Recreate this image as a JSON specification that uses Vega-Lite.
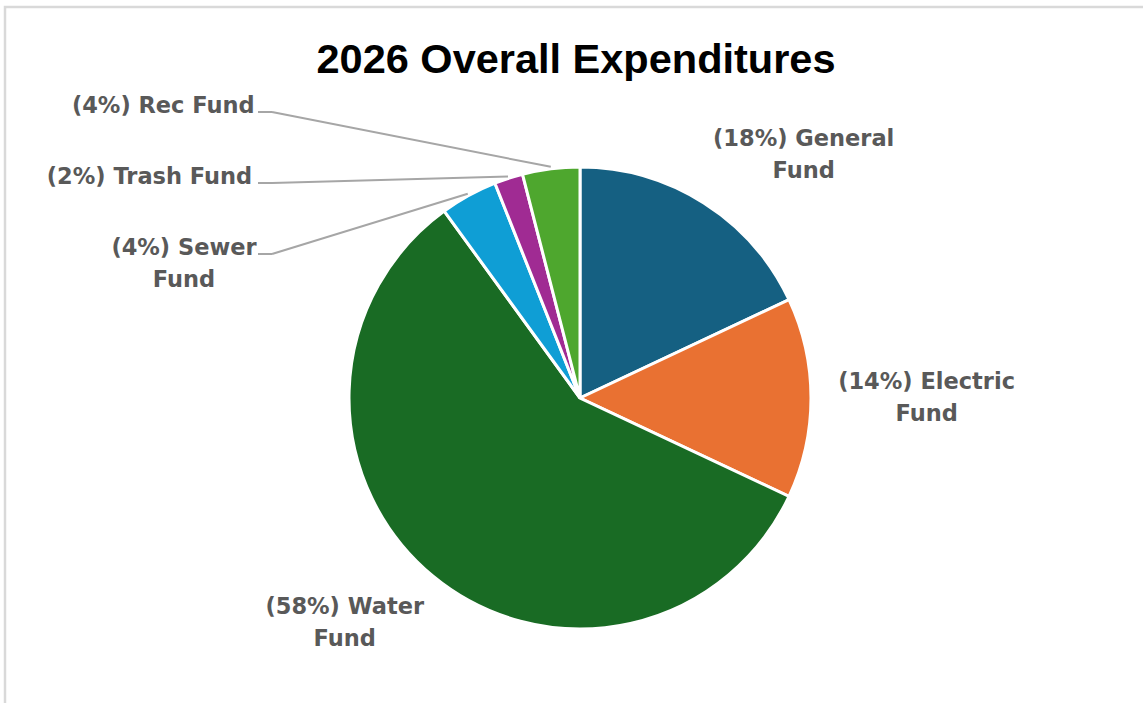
{
  "$schema": "https://vega.github.io/schema/vega-lite/v6.json",
  "autosize": {"type": "none"},
  "width": 1142,
  "height": 700,
  "padding": {"left": 5, "top": 7, "right": -4, "bottom": -4},
  "background": "white",
  "config": {"view": {"stroke": "#D9D9D9", "strokeWidth": 2.5}},
  "title": {
    "text": "2026 Overall Expenditures",
    "font": "Liberation Sans",
    "fontSize": 41.5,
    "fontWeight": "bold",
    "color": "#000000",
    "anchor": "middle",
    "baseline": "alphabetic",
    "offset": 0,
    "dy": 107.5
  },
  "data": {
    "values": [
      {"category": "General Fund", "value": 18, "label": "(18%) General\nFund"},
      {"category": "Electric Fund", "value": 14, "label": "(14%) Electric\nFund"},
      {"category": "Water Fund", "value": 58, "label": "(58%) Water\nFund"},
      {"category": "Sewer Fund", "value": 4, "label": "(4%) Sewer\nFund"},
      {"category": "Trash Fund", "value": 2, "label": "(2%) Trash Fund"},
      {"category": "Rec Fund", "value": 4, "label": "(4%) Rec Fund"}
    ]
  },
  "transform": [
    {"window": [{"op": "row_number", "as": "idx"}]},
    {"joinaggregate": [{"op": "sum", "field": "value", "as": "total"}]},
    {"window": [{"op": "sum", "field": "value", "as": "cum"}], "sort": [{"field": "idx"}], "frame": [null, 0]},
    {"calculate": "2*PI*(datum.cum - datum.value/2)/datum.total", "as": "mid"},
    {"calculate": "sin(datum.mid)", "as": "s"},
    {"calculate": "cos(datum.mid)", "as": "c"},
    {"calculate": "233*datum.s", "as": "ex"},
    {"calculate": "233*datum.c", "as": "ey"},
    {"calculate": "length(split(datum.label, '\\n'))", "as": "nl"},
    {"calculate": "length(split(datum.label, '\\n')[0]) * 13.8", "as": "w"}
  ],
  "layer": [
    {
      "mark": {"type": "arc", "outerRadius": 231, "stroke": "white", "strokeWidth": 3},
      "encoding": {
        "x": {"datum": 0, "type": "quantitative", "scale": {"domain": [-575, 567], "nice": false, "zero": false}, "axis": null},
        "y": {"datum": 0, "type": "quantitative", "scale": {"domain": [-309, 391], "nice": false, "zero": false}, "axis": null},
        "theta": {"field": "value", "type": "quantitative", "stack": true},
        "order": {"field": "idx", "type": "quantitative"},
        "color": {
          "field": "category",
          "type": "nominal",
          "scale": {
            "domain": ["General Fund", "Electric Fund", "Water Fund", "Sewer Fund", "Trash Fund", "Rec Fund"],
            "range": ["#156082", "#E97132", "#196B24", "#0F9ED5", "#A02B93", "#4EA72E"]
          },
          "legend": null
        }
      }
    },
    {
      "transform": [
        {"filter": "datum.value >= 10"},
        {"calculate": "datum.s > 0.2 ? 1 : (datum.s < -0.2 ? -1 : 0)", "as": "sgx"},
        {"calculate": "datum.c > 0.2 ? 1 : (datum.c < -0.2 ? -1 : 0)", "as": "sgy"},
        {"calculate": "250*datum.s + datum.sgx*datum.w/2", "as": "lx"},
        {"calculate": "250*datum.c + datum.sgy*datum.nl*16 + (datum.nl-1)*16", "as": "ly"}
      ],
      "mark": {"type": "text", "align": "center", "baseline": "middle", "font": "DejaVu Sans", "fontWeight": "bold", "fontSize": 22.5, "color": "#595959", "lineBreak": "\n", "lineHeight": 32},
      "encoding": {
        "x": {"field": "lx", "type": "quantitative", "scale": {"domain": [-575, 567], "nice": false, "zero": false}, "axis": null},
        "y": {"field": "ly", "type": "quantitative", "scale": {"domain": [-309, 391], "nice": false, "zero": false}, "axis": null},
        "text": {"field": "label"}
      }
    },
    {
      "transform": [
        {"filter": "datum.value < 10"},
        {"window": [{"op": "row_number", "as": "k"}], "sort": [{"field": "idx"}]},
        {"calculate": "143 + (datum.k - 1)*71", "as": "ty"},
        {"calculate": "datum.ty + 1", "as": "lly"},
        {"calculate": "-327 - datum.w/2", "as": "tx"},
        {"calculate": "-322", "as": "la"},
        {"calculate": "-308", "as": "lb"}
      ],
      "layer": [
        {
          "mark": {"type": "text", "align": "center", "baseline": "alphabetic", "font": "DejaVu Sans", "fontWeight": "bold", "fontSize": 22.5, "color": "#595959", "lineBreak": "\n", "lineHeight": 32},
          "encoding": {
            "x": {"field": "tx", "type": "quantitative", "scale": {"domain": [-575, 567], "nice": false, "zero": false}, "axis": null},
            "y": {"field": "ty", "type": "quantitative", "scale": {"domain": [-309, 391], "nice": false, "zero": false}, "axis": null},
            "text": {"field": "label"}
          }
        },
        {
          "mark": {"type": "rule", "color": "#A6A6A6", "strokeWidth": 2},
          "encoding": {
            "x": {"field": "la", "type": "quantitative", "scale": {"domain": [-575, 567], "nice": false, "zero": false}, "axis": null},
            "x2": {"field": "lb"},
            "y": {"field": "lly", "type": "quantitative", "scale": {"domain": [-309, 391], "nice": false, "zero": false}, "axis": null},
            "y2": {"field": "lly"}
          }
        },
        {
          "mark": {"type": "rule", "color": "#A6A6A6", "strokeWidth": 2},
          "encoding": {
            "x": {"field": "lb", "type": "quantitative", "scale": {"domain": [-575, 567], "nice": false, "zero": false}, "axis": null},
            "x2": {"field": "ex"},
            "y": {"field": "lly", "type": "quantitative", "scale": {"domain": [-309, 391], "nice": false, "zero": false}, "axis": null},
            "y2": {"field": "ey"}
          }
        }
      ]
    }
  ]
}
